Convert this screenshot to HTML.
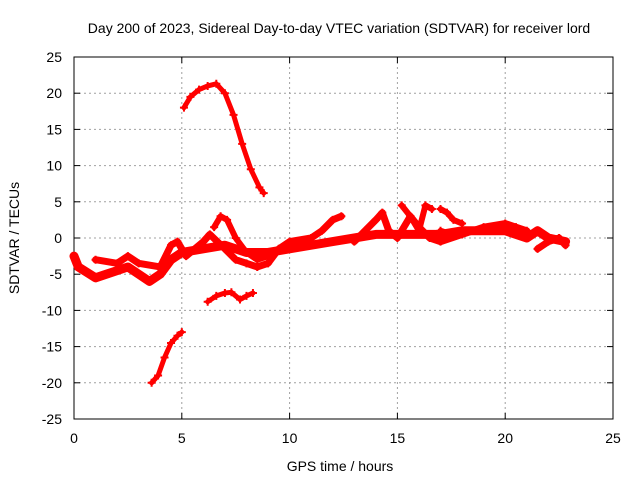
<!DOCTYPE html>
<html><head><meta charset="utf-8"><style>
body{margin:0;background:#fff}
svg{display:block;font-family:"Liberation Sans",sans-serif}
</style></head><body>
<svg id="chart" width="640" height="480">
<g id="grid"></g>
<g id="axes"></g>
<g id="series"></g>
<text x="339" y="33" text-anchor="middle" font-size="14">Day 200 of 2023, Sidereal Day-to-day VTEC variation (SDTVAR) for receiver lord</text>
<text x="340" y="471" text-anchor="middle" font-size="14">GPS time / hours</text>
<text transform="translate(19,238) rotate(-90)" text-anchor="middle" font-size="14">SDTVAR / TECUs</text>
</svg>
<script>
const xTicks=[0,5,10,15,20,25];
const yTicks=[-25,-20,-15,-10,-5,0,5,10,15,20,25];
const trackArcX=[5.1,5.4,5.8,6.2,6.6,7.0,7.4,7.8,8.2,8.6,8.8];
const trackArcY=[18,19.5,20.5,21,21.3,20,17,13,9.5,7,6.2];
const trackLowX=[3.6,3.9,4.2,4.5,4.8,5.0];
const trackLowY=[-20,-19,-16.5,-14.5,-13.5,-13];
const trackMidX=[6.2,6.6,7.0,7.3,7.7,8.0,8.3];
const trackMidY=[-8.8,-8,-7.6,-7.5,-8.5,-8,-7.6];
const mainX=[0,0.2,1,1.5,2,2.5,3,3.5,4,4.5,5,6,7,8,9,10,11,12,13,14,15,16,17,18,19,20,21,21.5,22,22.8];
const mainY=[-2.5,-4,-5.5,-5,-4.5,-4,-5,-6,-5,-3,-2,-1.5,-1,-2,-2,-1.5,-1,-0.5,0,0.5,0.5,0.5,0.5,1,1,1,0,1,0,-0.5];
const upperX=[1,2,2.5,3,4,4.5,4.8,5.2,6,6.3,7,7.5,8,8.5,9,9.5,10,11,11.5,12,12.4];
const upperY=[-3,-3.5,-2.5,-3.5,-4,-1,-0.5,-2.5,-0.5,0.5,-1.5,-3,-3.5,-4,-3.5,-1.5,-0.5,0,1,2.5,3];
const humpX=[6.5,6.8,7.1,7.5,8,8.5,9,9.5];
const humpY=[1.5,3,2.5,0,-2,-3,-2.5,-1.5];
const lateX=[13,13.5,14,14.3,14.6,15,15.6,16,16.5,17,18,19,20,20.5,21];
const lateY=[-0.5,1,2.5,3.5,1,0,3,1.5,0,-0.5,0.5,1.5,2,1.5,1];
const late2X=[15.2,15.6,16,16.3,16.6,17,17.5,18,18.5];
const late2Y=[4.5,3,1,4.5,4,1,0.5,0.5,1];
const late3X=[17,17.3,17.6,18,21.5,22,22.5,22.8];
const late3Y=[4,3.5,2.5,2,-1.5,-0.5,0,-1];
const tracks=[[trackArcX,trackArcY,5],[trackLowX,trackLowY,5],[trackMidX,trackMidY,5],[mainX,mainY,9],[upperX,upperY,7],[humpX,humpY,6],[lateX,lateY,7],[late2X.slice(0,5),late2Y.slice(0,5),6],[late2X.slice(5),late2Y.slice(5),6],[late3X.slice(0,4),late3Y.slice(0,4),6],[late3X.slice(4),late3Y.slice(4),7]];
const L=74,R=613,T=57,B=419;
const sx=v=>L+(v-0)/25*(R-L);
const sy=v=>B-(v+25)/50*(B-T);
const NS="http://www.w3.org/2000/svg";
function mk(tag,attrs,parent){const e=document.createElementNS(NS,tag);for(const k in attrs)e.setAttribute(k,attrs[k]);parent.appendChild(e);return e;}
const grid=document.getElementById('grid'),axes=document.getElementById('axes'),ser=document.getElementById('series');
xTicks.forEach(t=>{
 if(t>0&&t<25){const g=mk('line',{x1:sx(t),x2:sx(t),y1:T,y2:B,stroke:'#a0a0a0','stroke-dasharray':'2,3'},grid);
 
 }
 const tx=mk('text',{x:sx(t),y:B+24,'text-anchor':'middle','font-size':14},axes);tx.textContent=t;
 
 
 mk('line',{x1:sx(t),x2:sx(t),y1:B,y2:B-6,stroke:'#000'},axes);
 mk('line',{x1:sx(t),x2:sx(t),y1:T,y2:T+6,stroke:'#000'},axes);
});
yTicks.forEach(t=>{
 if(t>-25&&t<25){const g=mk('line',{x1:L,x2:R,y1:sy(t),y2:sy(t),stroke:'#a0a0a0','stroke-dasharray':'2,3'},grid);
 
 }
 const tx=mk('text',{x:L-12,y:sy(t)+5,'text-anchor':'end','font-size':14},axes);tx.textContent=t;
 
 
 mk('line',{x1:L,x2:L+6,y1:sy(t),y2:sy(t),stroke:'#000'},axes);
 mk('line',{x1:R,x2:R-6,y1:sy(t),y2:sy(t),stroke:'#000'},axes);
});
const fr=mk('rect',{x:L,y:T,width:R-L,height:B-T,fill:'none',stroke:'#000'},axes);


tracks.forEach(([xs,ys,w])=>{
 const pts=xs.map((x,i)=>sx(x)+','+sy(ys[i])).join(' ');
 const p=mk('polyline',{points:pts,fill:'none',stroke:'#ff0000','stroke-width':w,'stroke-linejoin':'round','stroke-linecap':'round'},ser);
 
 
 xs.forEach((x,i)=>{const cx=sx(x),cy=sy(ys[i]);
  const m=mk('path',{d:`M${cx-4},${cy}H${cx+4}M${cx},${cy-4}V${cy+4}`,stroke:'#ff0000','stroke-width':2},ser);
  
  });
});
</script>
</body></html>
